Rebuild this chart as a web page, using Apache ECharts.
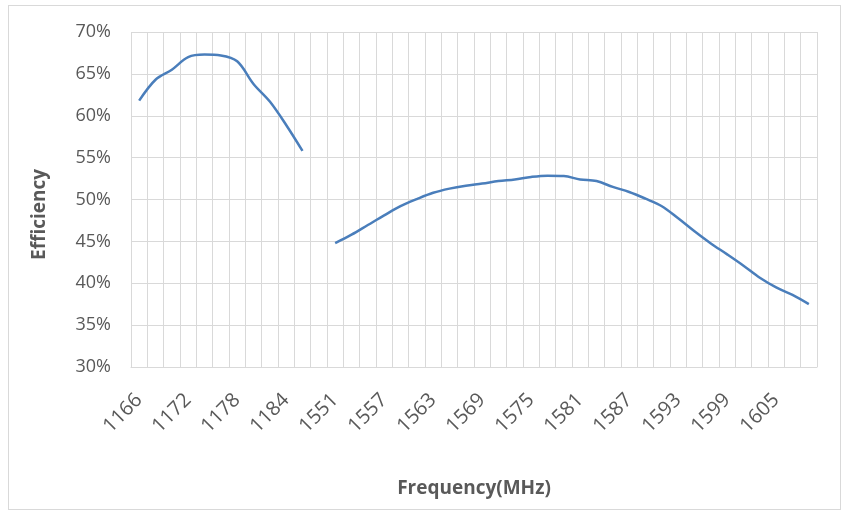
<!DOCTYPE html>
<html>
<head>
<meta charset="utf-8">
<script src="https://cdn.jsdelivr.net/npm/echarts@6/dist/echarts.min.js"></script>
<style>
html,body{margin:0;padding:0;background:#fff;}
#frame{position:absolute;left:8px;top:5px;width:833px;height:505px;border:1px solid #d9d9d9;box-sizing:border-box;}
#chart{position:absolute;left:0;top:0;width:845px;height:514px;}
</style>
</head>
<body>
<div id="frame"></div>
<div id="chart"></div>
<script>
// Frequency categories (MHz); one blank category separates the two bands
const categories = [
  '1166','1168','1170','1172','1174','1176','1178','1180','1182','1184','1186',
  '',
  '1551','1553','1555','1557','1559','1561','1563','1565','1567','1569','1571',
  '1573','1575','1577','1579','1581','1583','1585','1587','1589','1591','1593',
  '1595','1597','1599','1601','1603','1605','1607','1609'
];
// Efficiency (%)
const efficiency = [
  61.8, 64.3, 65.5, 67.0, 67.3, 67.2, 66.5, 63.8, 61.7, 58.9, 55.8,
  null,
  44.8, 45.8, 46.95, 48.1, 49.2, 50.05, 50.8, 51.3, 51.65, 51.9, 52.2,
  52.4, 52.7, 52.85, 52.8, 52.4, 52.2, 51.5, 50.9, 50.1, 49.2, 47.75,
  46.2, 44.75, 43.45, 42.1, 40.65, 39.5, 38.6, 37.5
];
const yTicks = { min: 30, max: 70, step: 5 };

const chart = echarts.init(document.getElementById('chart'), null, {renderer: 'canvas'});
const font = '"Open Sans", "Noto Sans", sans-serif';
chart.setOption({
  animation: false,
  grid: { left: 131, right: 28, top: 32, bottom: 147 },
  xAxis: {
    type: 'category',
    data: categories,
    boundaryGap: true,
    name: 'Frequency(MHz)',
    nameLocation: 'middle',
    nameGap: 112,
    nameTextStyle: { color: '#595959', fontFamily: font, fontSize: 19, fontWeight: 'bold' },
    axisLine: { show: true, lineStyle: { color: '#d9d9d9', width: 1 } },
    axisTick: { show: false },
    axisLabel: { interval: 2, rotate: 45, margin: 30, color: '#595959', fontFamily: font, fontSize: 20 },
    splitLine: { show: true, interval: 0, lineStyle: { color: '#d9d9d9', width: 1 } }
  },
  yAxis: {
    type: 'value',
    min: yTicks.min, max: yTicks.max, interval: yTicks.step,
    name: 'Efficiency',
    nameLocation: 'middle',
    nameGap: 82,
    nameRotate: 90,
    nameTextStyle: { color: '#595959', fontFamily: font, fontSize: 19, fontWeight: 'bold', padding: [0, 30, 0, 0] },
    axisLine: { show: false },
    axisTick: { show: false },
    axisLabel: { formatter: '{value}%', margin: 20, color: '#595959', fontFamily: font, fontSize: 18 },
    splitLine: { show: true, lineStyle: { color: '#d9d9d9', width: 1 } }
  },
  series: [{
    type: 'line',
    data: efficiency,
    smooth: 0.35,
    connectNulls: false,
    showSymbol: false,
    lineStyle: { color: '#4a7ebb', width: 2.5 },
    itemStyle: { color: '#4a7ebb' }
  }]
});
</script>
</body>
</html>
